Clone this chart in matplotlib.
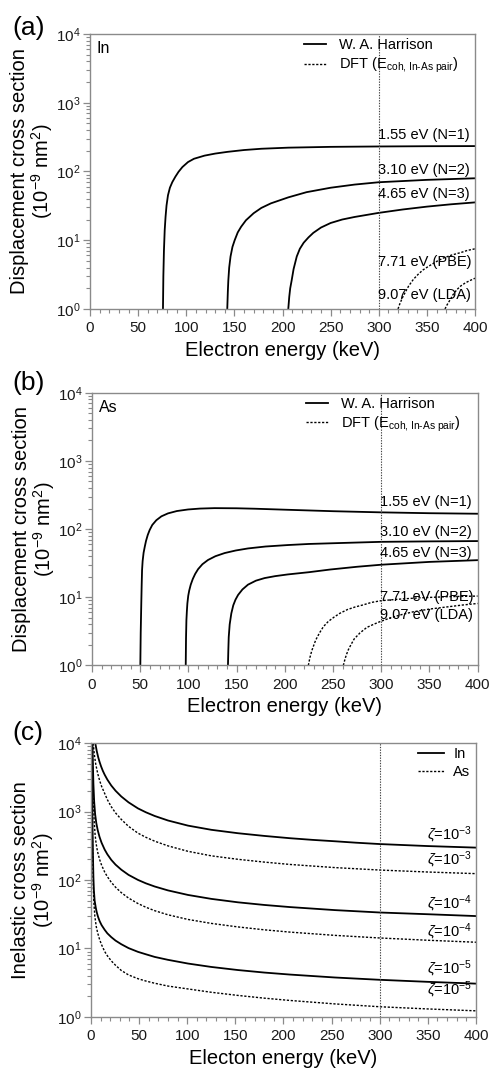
import numpy as np
import matplotlib
matplotlib.use("Agg")
import matplotlib.pyplot as plt

plt.rcParams['font.family'] = ['Liberation Sans', 'DejaVu Sans']
plt.rcParams['mathtext.fontset'] = 'custom'
plt.rcParams['mathtext.rm'] = 'Liberation Sans'
plt.rcParams['mathtext.it'] = 'Liberation Sans:italic'
plt.rcParams['mathtext.bf'] = 'Liberation Sans:bold'

# ---- panel (a): In displacement cross section (1e-9 nm^2) vs electron energy (keV)
in_n1_e = [75.8, 76.2, 76.8, 77.6, 78.5, 79.5, 81, 83, 85.5, 88.7, 92, 96, 101.8, 108, 119,
           130, 143, 160, 178, 206, 250, 300, 350, 400]
in_n1_s = [1, 3, 7, 14, 22, 32, 45, 58, 70, 84, 99, 116, 137, 153, 170,
           182, 193, 205, 214, 222, 228, 231, 233, 234]
in_n2_e = [142.6, 143.2, 143.7, 144.6, 146, 148, 150.3, 153.5, 157, 162, 170, 178, 188, 206,
           225, 250, 275, 300, 350, 400]
in_n2_s = [1, 1.8, 2.6, 4, 5.8, 8, 10, 13, 15.7, 19.5, 24.7, 29.5, 34.4, 42,
           50, 58, 64.5, 69.7, 75.5, 79.6]
in_n3_e = [206, 207, 208, 209.5, 211.5, 214.8, 218, 222, 227, 232, 240, 250, 262, 275,
           300, 325, 350, 375, 400]
in_n3_s = [1, 1.5, 2, 2.6, 3.8, 5.8, 7.5, 9.2, 11, 12.8, 15.3, 17.8, 20, 21.8,
           25, 28, 30.8, 33.3, 35.5]
in_pbe_e = [320, 322, 325, 328, 331, 336, 341, 346, 352, 360, 367, 376, 385, 392, 400]
in_pbe_s = [1, 1.2, 1.5, 1.8, 2.15, 2.7, 3.2, 3.7, 4.2, 4.9, 5.5, 6.1, 6.6, 7.1, 7.5]
in_lda_e = [368.8, 371, 374, 377, 381, 385, 390, 395, 400]
in_lda_s = [1, 1.15, 1.35, 1.6, 1.9, 2.15, 2.4, 2.6, 2.8]

# ---- panel (b): As displacement cross section
as_n1_e = [50.1, 50.5, 51.1, 51.5, 51.9, 52.5, 53.5, 54.7, 56, 57.8, 59.8, 62.5, 66.7, 72,
           78.8, 88, 99.6, 112, 127, 150, 169, 203, 250, 300, 350, 400]
as_n1_s = [1, 3, 8.1, 15, 25, 34, 45, 55, 67, 82, 97, 115, 135, 154,
           170, 184, 194, 200, 203, 202, 199, 192, 183, 176, 171, 168]
as_n2_e = [97.2, 97.5, 97.9, 98.4, 98.9, 99.8, 100.8, 102.4, 104.5, 107, 110, 114.5, 120.3,
           128, 137.6, 149, 161.8, 180, 203, 225, 250, 275, 300, 350, 400]
as_n2_s = [1, 2.5, 4.6, 6.3, 8.1, 10.5, 12.5, 15.3, 18.5, 22, 25.8, 30.5, 35.2,
           40, 44.5, 48.5, 52, 55.5, 58.3, 60.5, 62, 63.5, 65, 66, 66.7]
as_n3_e = [141, 141.4, 141.8, 142.8, 144.5, 146.5, 148.8, 151.5, 156, 161.8, 170, 179, 190,
           203, 225, 247, 275, 300, 350, 400]
as_n3_s = [1, 1.7, 2.6, 4, 5.8, 7.6, 9.2, 10.8, 13.0, 15.3, 17.5, 19.1, 20.4,
           21.6, 23.3, 25.5, 28, 30, 33, 35]
as_pbe_e = [224.4, 226, 228, 229.6, 232, 236, 240, 245, 251, 257, 265, 273, 281, 290, 300,
            320, 340, 370, 400]
as_pbe_s = [1, 1.3, 1.65, 1.9, 2.35, 3.0, 3.7, 4.4, 5.1, 5.8, 6.6, 7.2, 7.7, 8.4, 8.9,
            9.4, 9.8, 10.2, 10.4]
as_lda_e = [260.7, 262.5, 264, 265.9, 268.5, 272, 278, 285, 292, 299, 310, 322, 333, 350,
            368, 385, 400]
as_lda_s = [1, 1.25, 1.45, 1.7, 2.0, 2.45, 3.0, 3.6, 4.0, 4.4, 5.0, 5.6, 6.1, 6.7,
            7.2, 7.7, 8.1]

# ---- panel (c): inelastic cross section
in_z3_e = [4.5, 6, 7.5, 8.9, 10.5, 12.3, 14.2, 17, 21.1, 25.5, 31.5, 39, 48.8, 57, 66.2, 80,
           100.8, 125, 152.7, 180, 206.8, 230, 253.5, 275, 300, 350, 400]
in_z3_s = [10000, 7680, 6250, 5350, 4590, 3960, 3475, 2945, 2410, 2025, 1667, 1370, 1117,
           980, 865, 743, 625, 543, 484, 442, 409, 387, 369, 352, 336, 314, 298]
as_z3_e = [2.4, 3.0, 3.8, 5.0, 7.0, 9.0, 11, 14.2, 17, 21.1, 25.5, 31.5, 39, 48.8, 57, 66.2,
           80, 100.8, 125, 152.7, 180, 206.8, 253.5, 300, 350, 400]
as_z3_s = [10000, 7900, 6300, 4900, 3600, 2850, 2350, 1850, 1500, 1180, 960, 770, 610, 485,
           422, 370, 316, 263, 226, 201, 183, 169, 152, 140, 131, 124]
in_z4_e = [1.55, 2.0, 2.5, 3.3, 4.3, 5.5, 7, 8.9, 11, 14.2, 17, 21.1, 25.5, 31.5, 39, 48.8,
           57, 66.2, 80, 100.8, 125, 152.7, 180, 206.8, 253.5, 300, 350, 400]
in_z4_s = [10000, 4800, 2570, 1400, 917, 682, 535, 426, 351, 279, 238, 197, 168, 141.6, 119,
           100.4, 89.5, 80.4, 70.5, 60.5, 53.0, 47.2, 43.2, 40.2, 36.3, 33.5, 31.6, 29.7]
as_z4_e = [1.3, 1.5, 2.0, 2.5, 3.3, 4.2, 5, 6, 7.3, 9, 11, 14.2, 17, 21.1, 25.5, 31.5, 39,
           48.8, 57, 66.2, 80, 100.8, 125, 152.7, 180, 206.8, 253.5, 300, 350, 400]
as_z4_s = [10000, 6970, 2770, 1420, 731, 473, 371, 298, 243, 199, 165, 131, 112, 92.5, 78.5,
           65.4, 54.5, 45.3, 40.0, 35.6, 31.0, 26.5, 23.2, 20.6, 18.7, 17.3, 15.5, 14.2,
           13.15, 12.3]
in_z5_e = [0.85, 1.0, 1.5, 2.0, 2.5, 3.0, 3.8, 5, 6, 7.3, 9, 11, 14.2, 17, 21.1, 25.5, 31.5,
           39, 48.8, 57, 66.2, 80, 100.8, 125, 152.7, 180, 206.8, 253.5, 300, 350, 400]
in_z5_s = [10000, 4800, 775, 245, 112, 71, 49.8, 39.2, 33.7, 29, 25, 21.9, 18.7, 16.6, 14.6,
           13.0, 11.5, 10.1, 8.9, 8.2, 7.5, 6.8, 6.0, 5.35, 4.82, 4.43, 4.14, 3.75, 3.47,
           3.24, 3.05]
as_z5_e = [0.7, 1.0, 1.5, 2.0, 2.5, 3.0, 4.0, 5.5, 7, 9, 11, 14.2, 17, 21.1, 25.5, 31.5, 39,
           48.8, 57, 66.2, 80, 100.8, 125, 152.7, 180, 206.8, 253.5, 300, 350, 400]
as_z5_s = [10000, 2450, 447, 150, 73, 46.6, 29.4, 20.7, 16.7, 13.4, 11.3, 9.0, 7.8, 6.56,
           5.66, 4.75, 4.09, 3.6, 3.33, 3.09, 2.81, 2.55, 2.28, 2.05, 1.87, 1.73, 1.54, 1.40,
           1.30, 1.22]

# label texts and their value anchors
disp_labels = ['1.55 eV (N=1)', '3.10 eV (N=2)', '4.65 eV (N=3)', '7.71 eV (PBE)', '9.07 eV (LDA)']
in_label_y = [339, 105, 47, 4.9, 1.6]
as_label_y = [251, 91, 44, 10.2, 5.5]
zeta_labels = [r'$\zeta$=10$^{-3}$', r'$\zeta$=10$^{-3}$', r'$\zeta$=10$^{-4}$',
               r'$\zeta$=10$^{-4}$', r'$\zeta$=10$^{-5}$', r'$\zeta$=10$^{-5}$']
zeta_label_y = [455, 196, 45.6, 17.5, 5.1, 2.46]

DOT = (0, (1.6, 1.2))
FRAME = '#8a8a8a'


def style_axes(ax, xlabel, ylabel):
    ax.set_yscale('log')
    ax.set_xlim(0, 400)
    ax.set_ylim(1, 1e4)
    ax.set_xticks(np.arange(0, 401, 50))
    ax.set_xticks(np.arange(0, 401, 10), minor=True)
    for s in ax.spines.values():
        s.set_color(FRAME)
        s.set_linewidth(1.0)
    ax.tick_params(which='both', direction='out', color=FRAME, labelsize=11,
                   labelcolor='#1a1a1a')
    ax.tick_params(which='major', length=5, width=0.9)
    ax.tick_params(which='minor', length=3, width=0.8)
    ax.tick_params(axis='x', pad=4)
    ax.tick_params(axis='y', pad=2)
    ax.axvline(300, color='#444444', lw=0.8, ls=(0, (1.2, 1.2)))
    ax.set_xlabel(xlabel, fontsize=14.5, labelpad=4)
    ax.set_ylabel(ylabel, fontsize=14.5, linespacing=1.0)
    ax.yaxis.set_label_coords(-0.09, 0.5)


def displacement_panel(ax, name, curves, label_y):
    n1, n2, n3, pbe, lda = curves
    ax.plot(*n1, color='k', lw=1.3, label='W. A. Harrison')
    ax.plot(*n2, color='k', lw=1.3)
    ax.plot(*n3, color='k', lw=1.3)
    ax.plot(*pbe, color='k', lw=1.0, ls=DOT, label=r'DFT (E$_{\text{coh, In-As pair}}$)')
    ax.plot(*lda, color='k', lw=1.0, ls=DOT)
    for txt, yv in zip(disp_labels, label_y):
        ax.text(299, yv, txt, fontsize=10.5, va='center', ha='left')
    ax.text(0.018, 0.947, name, transform=ax.transAxes, fontsize=11.5, va='center')
    ax.legend(loc='upper left', bbox_to_anchor=(0.555, 0.985), frameon=False,
              fontsize=10.5, handlelength=1.5, handletextpad=0.9,
              borderpad=0, borderaxespad=0, labelspacing=0.25)
    style_axes(ax, 'Electron energy (keV)',
               'Displacement cross section\n(10$^{-9}$ nm$^{2}$)')


fig = plt.figure(figsize=(4.9, 10.68), dpi=100)
ax_a = fig.add_axes([0.1837, 0.7107, 0.7857, 0.2575])
ax_b = fig.add_axes([0.1878, 0.3770, 0.7870, 0.2552])
ax_c = fig.add_axes([0.1857, 0.0480, 0.7857, 0.2560])

displacement_panel(ax_a, 'In',
                   [(in_n1_e, in_n1_s), (in_n2_e, in_n2_s), (in_n3_e, in_n3_s),
                    (in_pbe_e, in_pbe_s), (in_lda_e, in_lda_s)], in_label_y)
displacement_panel(ax_b, 'As',
                   [(as_n1_e, as_n1_s), (as_n2_e, as_n2_s), (as_n3_e, as_n3_s),
                    (as_pbe_e, as_pbe_s), (as_lda_e, as_lda_s)], as_label_y)

# panel (c)
ax_c.plot(in_z3_e, in_z3_s, color='k', lw=1.3, label='In')
ax_c.plot(as_z3_e, as_z3_s, color='k', lw=1.0, ls=DOT, label='As')
ax_c.plot(in_z4_e, in_z4_s, color='k', lw=1.3)
ax_c.plot(as_z4_e, as_z4_s, color='k', lw=1.0, ls=DOT)
ax_c.plot(in_z5_e, in_z5_s, color='k', lw=1.3)
ax_c.plot(as_z5_e, as_z5_s, color='k', lw=1.0, ls=DOT)
for txt, yv in zip(zeta_labels, zeta_label_y):
    ax_c.text(396, yv, txt, fontsize=10.5, va='center', ha='right')
ax_c.legend(loc='upper left', bbox_to_anchor=(0.85, 0.985), frameon=False,
            fontsize=10.5, handlelength=1.8, handletextpad=0.6,
            borderpad=0, borderaxespad=0, labelspacing=0.25)
style_axes(ax_c, 'Electon energy (keV)', 'Inelastic cross section\n(10$^{-9}$ nm$^{2}$)')

fig.text(0.025, 0.974, '(a)', fontsize=19, va='center')
fig.text(0.025, 0.641, '(b)', fontsize=19, va='center')
fig.text(0.025, 0.314, '(c)', fontsize=19, va='center')

fig.savefig('out.png', dpi=100)
